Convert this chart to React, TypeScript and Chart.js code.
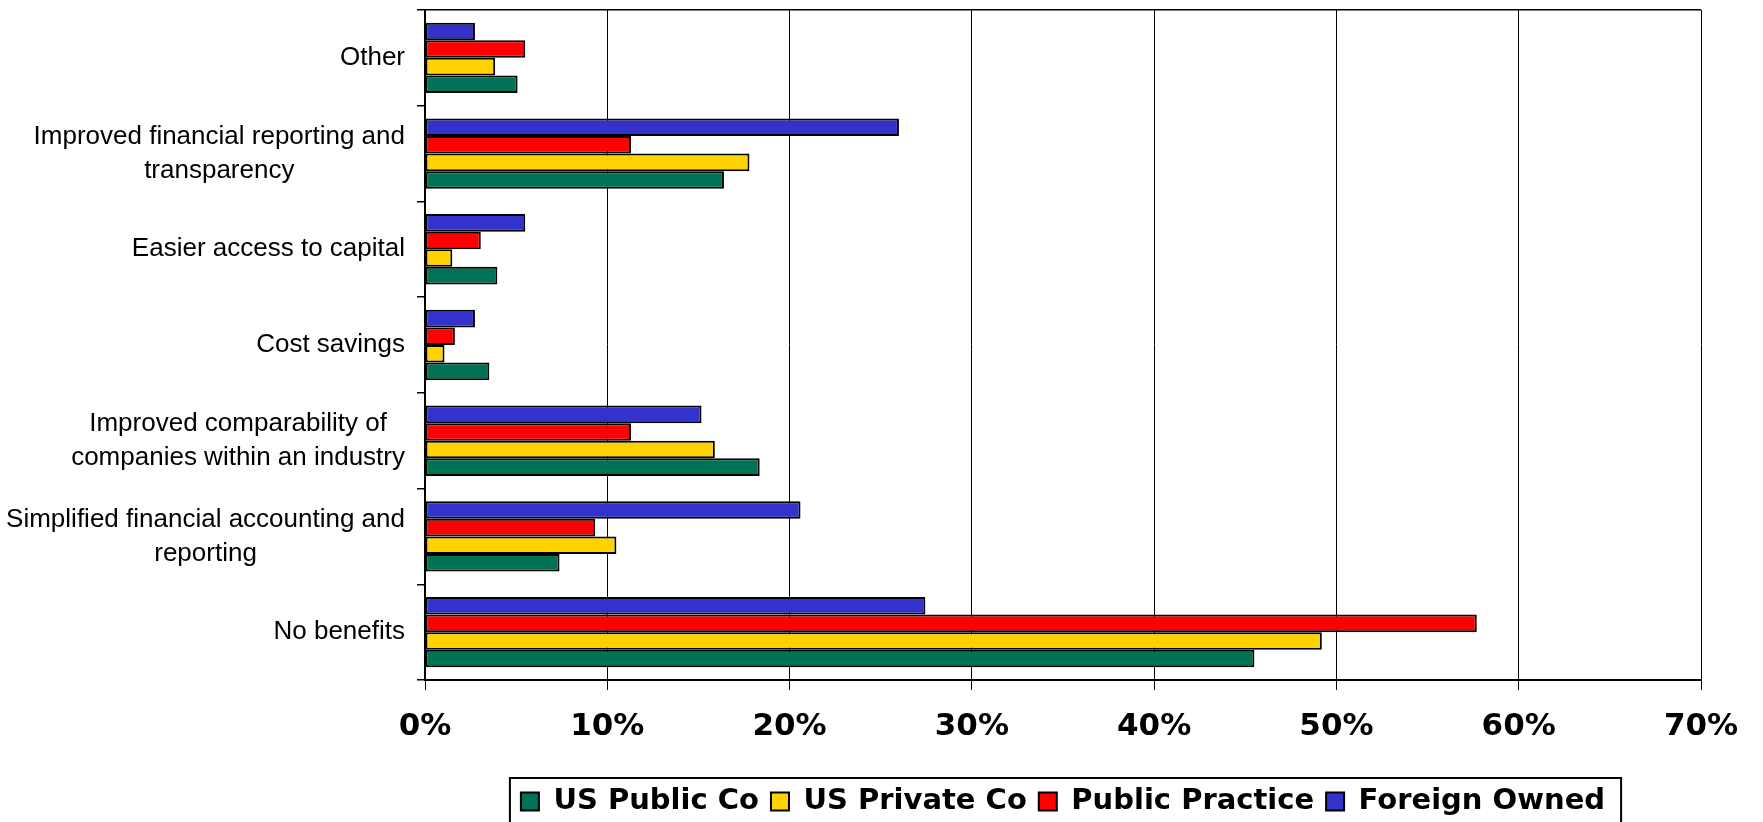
import React, { useEffect, useRef } from "react";
import { Chart, registerables } from "chart.js";

Chart.register(...registerables);

const categories: string[][] = [
  ["Other"],
  ["Improved financial reporting and", "transparency"],
  ["Easier access to capital"],
  ["Cost savings"],
  ["Improved comparability of", "companies within an industry"],
  ["Simplified financial accounting and", "reporting"],
  ["No benefits"],
];

const usPublicCo = [5.08, 16.4, 3.97, 3.53, 18.36, 7.38, 45.5];
const usPrivateCo = [3.85, 17.8, 1.5, 1.07, 15.9, 10.5, 49.2];
const publicPractice = [5.5, 11.3, 3.06, 1.64, 11.3, 9.34, 57.7];
const foreignOwned = [2.74, 26.0, 5.5, 2.74, 15.17, 20.6, 27.45];

const xTicks = [0, 10, 20, 30, 40, 50, 60, 70];

const W = 1763;
const H = 826;

const yLabelPlugin = {
  id: "yLabelPlugin",
  afterDraw(chart: any) {
    const ctx = chart.ctx;
    const yScale = chart.scales.y;
    ctx.save();
    ctx.font = '26px "Liberation Sans"';
    ctx.fillStyle = "#000";
    ctx.textAlign = "center";
    ctx.textBaseline = "middle";
    const rightEdge = yScale.right - 20;
    const lh = 34;
    categories.forEach((lines, i) => {
      const y = yScale.getPixelForTick(i);
      const maxW = Math.max(...lines.map((l) => ctx.measureText(l).width));
      const cx = rightEdge - maxW / 2;
      const y0 = y - ((lines.length - 1) * lh) / 2;
      lines.forEach((l, j) => ctx.fillText(l, cx, y0 + j * lh));
    });
    ctx.restore();
  },
};

const legendBorderPlugin = {
  id: "legendBorderPlugin",
  afterDraw(chart: any) {
    const lg = chart.legend;
    if (!lg || !lg.legendHitBoxes || !lg.legendHitBoxes.length) return;
    const boxes = lg.legendHitBoxes;
    const left = Math.min(...boxes.map((b: any) => b.left)) - 11;
    const right = Math.max(...boxes.map((b: any) => b.left + b.width)) + 16;
    const top = 778;
    const ctx = chart.ctx;
    ctx.save();
    ctx.strokeStyle = "#000";
    ctx.lineWidth = 2;
    ctx.strokeRect(left, top, right - left, H + 20 - top);
    ctx.restore();
  },
};

export default function App() {
  const ref = useRef<HTMLCanvasElement>(null);
  useEffect(() => {
    document.body.style.margin = "0";
    document.body.style.overflow = "hidden";
    const canvas = ref.current!;
    const chart = new Chart(canvas, {
      type: "bar",
      data: {
        labels: categories.map((c) => c.join(" ")),
        datasets: [
          { label: "Foreign Owned", data: foreignOwned, backgroundColor: "#3333CC" },
          { label: "Public Practice", data: publicPractice, backgroundColor: "#FF0000" },
          { label: "US Private Co", data: usPrivateCo, backgroundColor: "#FFD200" },
          { label: "US Public Co", data: usPublicCo, backgroundColor: "#007256" },
        ].map((d) => ({
          ...d,
          borderColor: "#000",
          borderWidth: 2,
          borderSkipped: false,
          barPercentage: 1,
          categoryPercentage: 0.735,
        })),
      },
      options: {
        indexAxis: "y",
        responsive: false,
        animation: false,
        devicePixelRatio: 1,
        layout: { padding: { top: 10, right: 62, bottom: 0, left: 0 } },
        plugins: {
          tooltip: { enabled: false },
          legend: {
            position: "bottom",
            fullSize: false,
            reverse: true,
            labels: {
              boxWidth: 18,
              boxHeight: 18,
              padding: 12,
              color: "#000",
              font: { family: '"DejaVu Sans"', size: 29, weight: "bold" },
            },
          },
        },
        scales: {
          x: {
            min: 0,
            max: 70,
            afterBuildTicks: (scale: any) => {
              scale.ticks = xTicks.map((v) => ({ value: v }));
            },
            afterFit: (scale: any) => {
              scale.height = 95;
            },
            grid: {
              color: "#000",
              lineWidth: 1,
              tickLength: 10,
              tickColor: "#000",
            },
            border: { display: true, color: "#000", width: 2 },
            ticks: {
              padding: 18,
              color: "#000",
              font: { family: '"DejaVu Sans"', size: 31, weight: "bold" },
              callback: (v: any) => v + "%",
            },
          },
          y: {
            afterFit: (scale: any) => {
              scale.width = 425;
              scale.paddingTop = 0;
              scale.paddingBottom = 0;
            },
            grid: {
              offset: true,
              color: (c: any) => (c.index === 0 ? "#000" : "rgba(0,0,0,0)"),
              lineWidth: 1.5,
              tickLength: 8,
              tickColor: "#000",
              tickWidth: 1.5,
            },
            border: { display: true, color: "#000", width: 2 },
            ticks: { display: false },
          },
        },
      },
      plugins: [yLabelPlugin, legendBorderPlugin],
    } as any);
    return () => chart.destroy();
  }, []);
  return <canvas ref={ref} width={W} height={H} style={{ display: "block" }} />;
}
